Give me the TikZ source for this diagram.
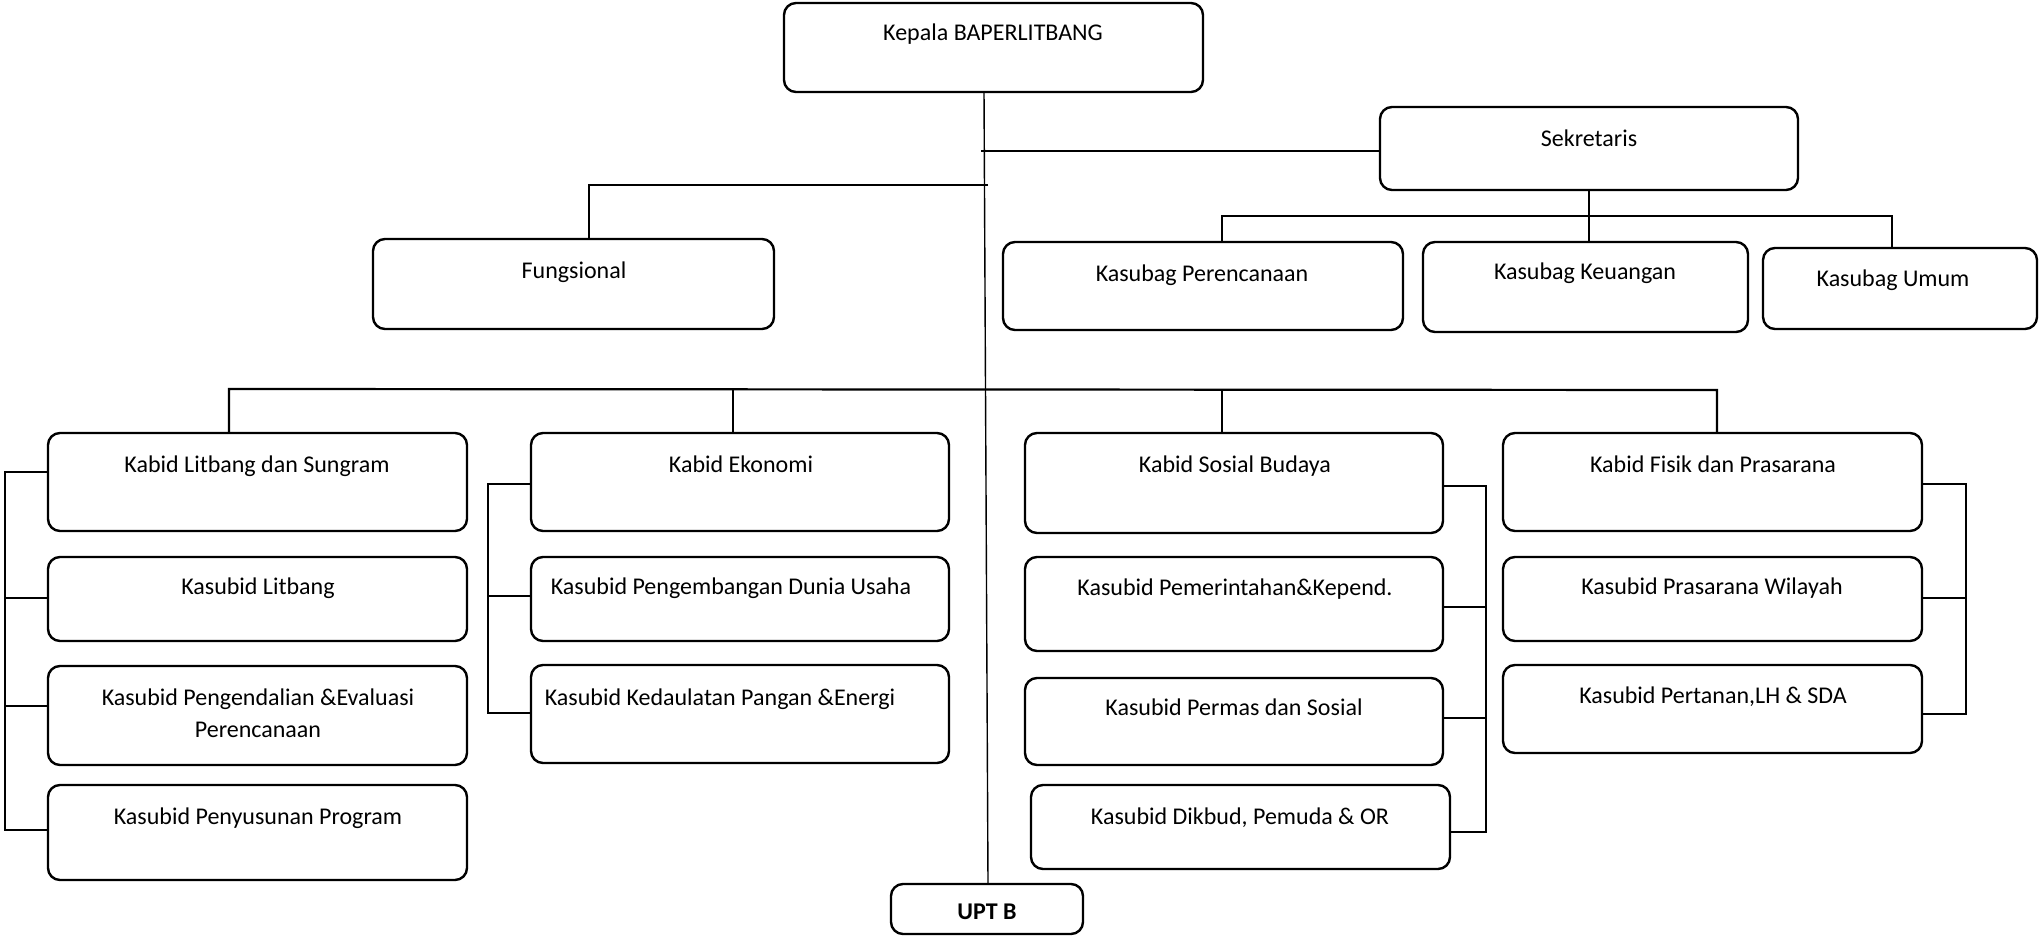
\documentclass[tikz,border=0pt]{standalone}
\usepackage{fontspec}
\setmainfont{Carlito}
\begin{document}
\begin{tikzpicture}[x=0.5pt,y=-0.5pt,
  box/.style={draw, line width=1.2pt, rounded corners=6pt, inner sep=0pt, outer sep=0pt},
  txt/.style={inner sep=0pt, anchor=mid, yshift=-2.5pt, font=\fontsize{12}{14}\selectfont},
  conn/.style={line width=1.1pt},
  thin/.style={line width=0.7pt}]
\useasboundingbox (0,0) rectangle (2039,936);
% name, x1, y1, x2, y2, text, text x, text y
\newcommand\obox[8]{%
  \node[box, minimum width={(#4-#2)*0.5pt}, minimum height={(#5-#3)*0.5pt}] (#1) at ({(#2+#4)/2},{(#3+#5)/2}) {};
  \node[txt] (#1t) at (#7,#8) {#6};}
\obox{kepala}{784}{3}{1203}{92}{Kepala BAPERLITBANG}{993}{31}
\obox{sek}{1380}{107}{1798}{190}{Sekretaris}{1589}{137}
\obox{fung}{373}{239}{774}{329}{Fungsional}{574}{269}
\obox{kper}{1003}{242}{1403}{330}{Kasubag Perencanaan}{1202}{272}
\obox{kkeu}{1423}{242}{1748}{332}{Kasubag Keuangan}{1585}{270}
\obox{kum}{1763}{248}{2037}{329}{Kasubag Umum}{1893}{277}
% column 1
\obox{a1}{48}{433}{467}{531}{Kabid Litbang dan Sungram}{257}{463}
\obox{a2}{48}{557}{467}{641}{Kasubid Litbang}{258}{585}
\obox{a3}{48}{666}{467}{765}{Kasubid Pengendalian \&Evaluasi}{258}{696}
\node[txt] (a3u) at (258,728) {Perencanaan};
\obox{a4}{48}{785}{467}{880}{Kasubid Penyusunan Program}{258}{815}
% column 2
\obox{b1}{531}{433}{949}{531}{Kabid Ekonomi}{741}{463}
\obox{b2}{531}{557}{949}{641}{Kasubid Pengembangan Dunia Usaha}{731}{585}
\obox{b3}{531}{665}{949}{763}{Kasubid Kedaulatan Pangan \&Energi}{720}{696}
% column 3
\obox{c1}{1025}{433}{1443}{533}{Kabid Sosial Budaya}{1235}{463}
\obox{c2}{1025}{557}{1443}{651}{Kasubid Pemerintahan\&Kepend.}{1235}{586}
\obox{c3}{1025}{678}{1443}{765}{Kasubid Permas dan Sosial}{1234}{706}
\obox{c4}{1031}{785}{1450}{869}{Kasubid Dikbud, Pemuda \& OR}{1240}{815}
% column 4
\obox{d1}{1503}{433}{1922}{531}{Kabid Fisik dan Prasarana}{1713}{463}
\obox{d2}{1503}{557}{1922}{641}{Kasubid Prasarana Wilayah}{1712}{585}
\obox{d3}{1503}{665}{1922}{753}{Kasubid Pertanan,LH \& SDA}{1713}{694}
% UPT B
\obox{upt}{891}{884}{1083}{934}{\bfseries UPT B}{987}{910}
% main trunk
\draw[thin] (kepala.south -| 984,0) -- (upt.north -| 988,0);
% sekretaris branch
\draw[conn] (981,151) -- (sek.west |- 0,151);
% fungsional branch
\draw[conn] (988,185) -- (589,185) -- (fung.north -| 589,0);
% kasubag bus
\draw[thin] (sek.south) -- (kkeu.north -| sek.south);
\draw[conn] (kper.north -| 1222,0) -- (1222,216) -- (1892,216) -- (kum.north -| 1892,0);
% kabid bus
\draw[conn] (a1.north -| 229,0) -- (229,389) -- (1717,390) -- (d1.north -| 1717,0);
\draw[thin] (733,389) -- (b1.north -| 733,0);
\draw[thin] (1222,390) -- (c1.north -| 1222,0);
% left bracket
\draw[conn] (a1.west |- 0,472) -- (5,472) -- (5,830) -- (a4.west |- 0,830);
\draw[conn] (5,598) -- (a2.west |- 0,598);
\draw[conn] (5,706) -- (a3.west |- 0,706);
% ekonomi bracket
\draw[conn] (b1.west |- 0,484) -- (488,484) -- (488,713) -- (b3.west |- 0,713);
\draw[conn] (488,596) -- (b2.west |- 0,596);
% sosial bracket
\draw[conn] (c1.east |- 0,486) -- (1486,486) -- (1486,832) -- (c4.east |- 0,832);
\draw[conn] (1486,607) -- (c2.east |- 0,607);
\draw[conn] (1486,718) -- (c3.east |- 0,718);
% fisik bracket
\draw[conn] (d1.east |- 0,484) -- (1966,484) -- (1966,714) -- (d3.east |- 0,714);
\draw[conn] (1966,598) -- (d2.east |- 0,598);
\end{tikzpicture}
\end{document}
